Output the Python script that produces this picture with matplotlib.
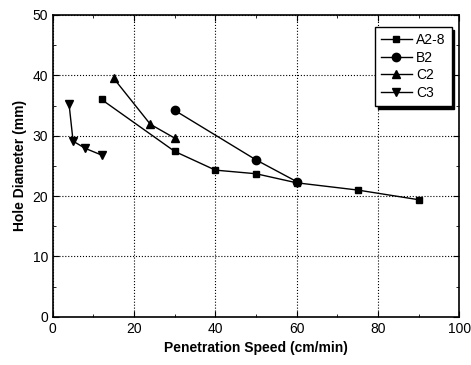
import matplotlib
matplotlib.use("Agg")
import matplotlib.pyplot as plt
from matplotlib.ticker import MultipleLocator

plt.rcParams['font.family'] = ['Liberation Sans', 'DejaVu Sans']

# Series data (penetration speed cm/min, hole diameter mm)
a28_x = [12, 30, 40, 50, 60, 75, 90]
a28_y = [36.0, 27.4, 24.3, 23.7, 22.2, 21.0, 19.4]
b2_x = [30, 50, 60]
b2_y = [34.2, 26.0, 22.4]
c2_x = [15, 24, 30]
c2_y = [39.5, 31.9, 29.6]
c3_x = [4, 5, 8, 12]
c3_y = [35.3, 29.1, 27.9, 26.8]

fig = plt.figure(figsize=(4.71, 3.65), dpi=100)
ax = fig.add_axes([0.112, 0.132, 0.863, 0.827])

ax.plot(a28_x, a28_y, 's-', color='black', ms=5, lw=1, label='A2-8')
ax.plot(b2_x, b2_y, 'o-', color='black', ms=6, lw=1, label='B2')
ax.plot(c2_x, c2_y, '^-', color='black', ms=6, lw=1, label='C2')
ax.plot(c3_x, c3_y, 'v-', color='black', ms=6, lw=1, label='C3')

ax.set_xlim(0, 100)
ax.set_ylim(0, 50)
ax.xaxis.set_major_locator(MultipleLocator(20))
ax.xaxis.set_minor_locator(MultipleLocator(10))
ax.yaxis.set_major_locator(MultipleLocator(10))
ax.yaxis.set_minor_locator(MultipleLocator(5))
ax.tick_params(which='both', direction='in', top=True, right=True, labelsize=10)
ax.tick_params(which='major', length=4)
ax.tick_params(which='minor', length=2)
ax.grid(True, which='major', linestyle=':', color='black', lw=0.8)
for s in ax.spines.values():
    s.set_linewidth(1.2)

ax.set_xlabel('Penetration Speed (cm/min)', fontsize=10, fontweight='bold')
ax.set_ylabel('Hole Diameter (mm)', fontsize=10, fontweight='bold')

leg = ax.legend(loc='upper right', bbox_to_anchor=(0.981, 0.96), borderaxespad=0,
                fancybox=False, shadow={'color': 'black', 'alpha': 1},
                framealpha=1, edgecolor='black', fontsize=10,
                handlelength=2.2, borderpad=0.45, labelspacing=0.25, handletextpad=0.3)
leg.get_frame().set_linewidth(1)

fig.savefig('out.png', dpi=100)
